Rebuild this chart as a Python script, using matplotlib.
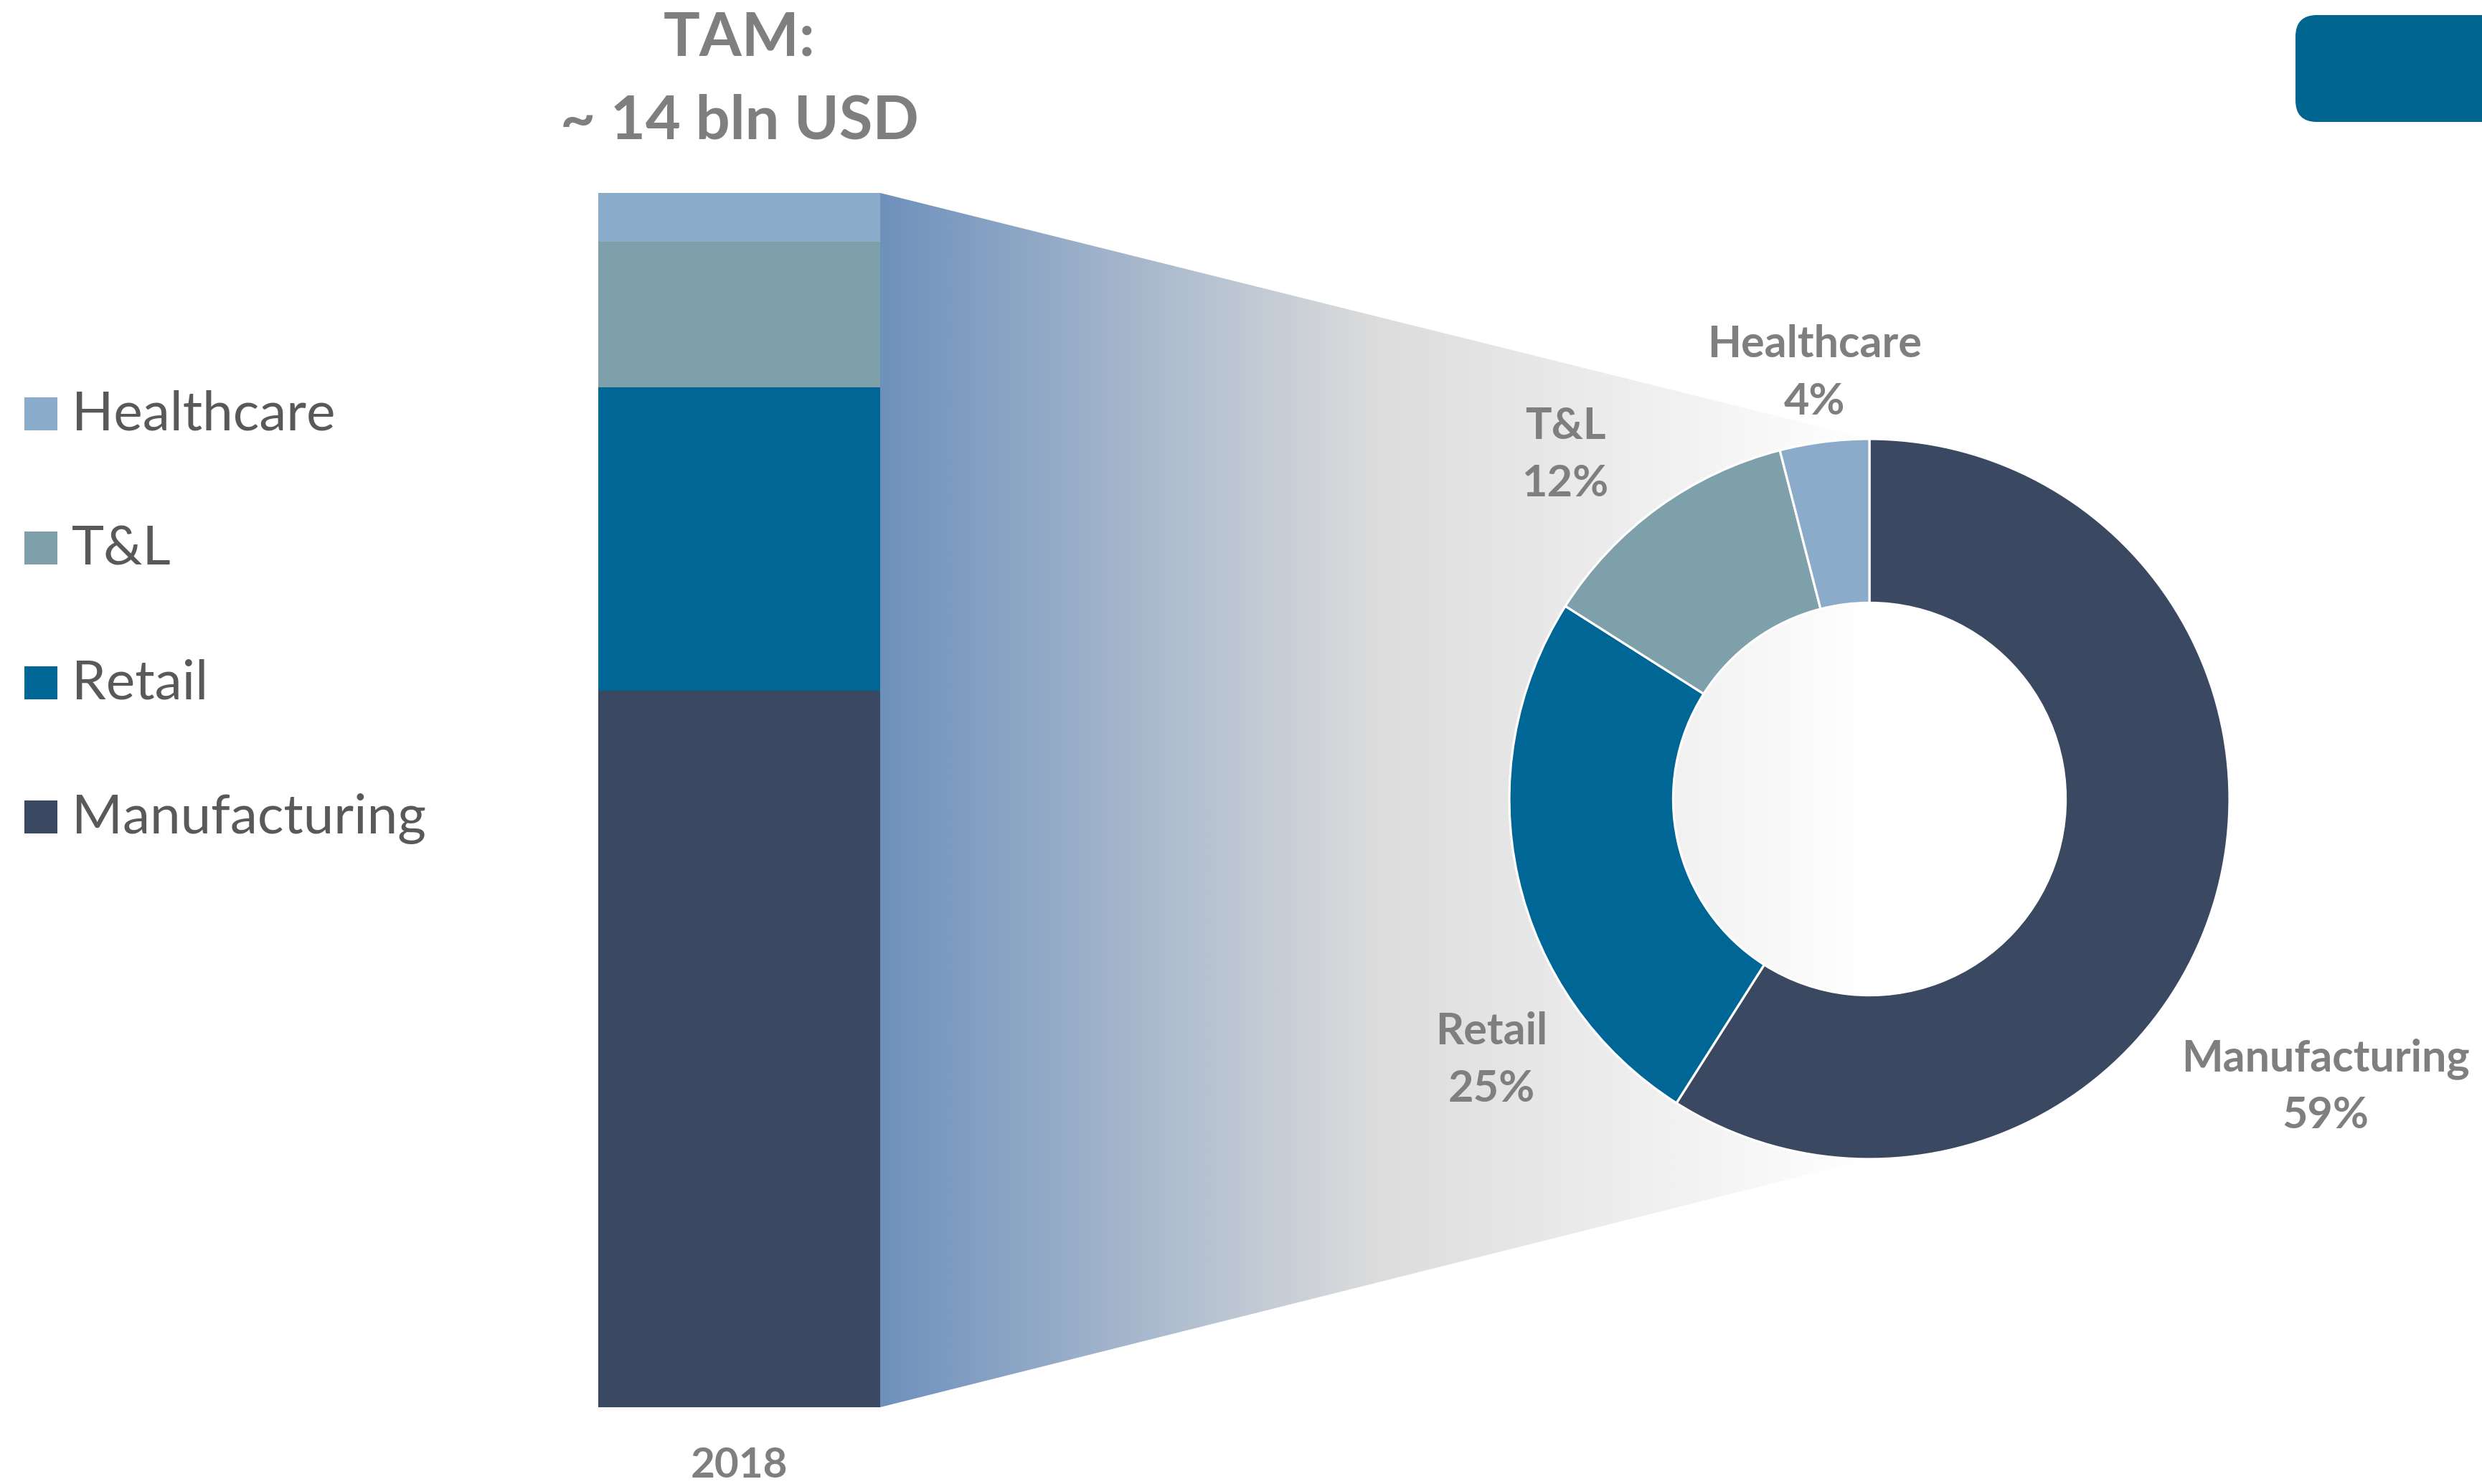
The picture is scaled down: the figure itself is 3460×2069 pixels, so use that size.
import numpy as np
import matplotlib
matplotlib.use('Agg')
import matplotlib.pyplot as plt
from matplotlib.patches import Polygon, FancyBboxPatch, Rectangle
from matplotlib.colors import LinearSegmentedColormap

# data
segments = ['Manufacturing', 'Retail', 'T&L', 'Healthcare']
shares = [59, 25, 12, 4]
seg_colors = ['#3B4862', '#006695', '#7DA0AA', '#8AABC9']
bar_year = '2018'
tam_lines = ['TAM:', '~ 14 bln USD']
legend_order = ['Healthcare', 'T&L', 'Retail', 'Manufacturing']

plt.rcParams['font.family'] = ['Lato', 'DejaVu Sans']

W, H = 3460, 2069
fig = plt.figure(figsize=(W / 100, H / 100), dpi=100)
fig.patch.set_facecolor('white')

label_grey = '#7F7F7F'
legend_grey = '#595959'


def px_axes(left, top, right, bottom):
    """Axes placed by pixel box (origin top-left)."""
    return fig.add_axes([left / W, 1 - bottom / H, (right - left) / W, (bottom - top) / H])


# background axes in pixel units, used for connector, texts and legend
bg = px_axes(0, 0, W, H)
bg.set_xlim(0, W)
bg.set_ylim(H, 0)
bg.axis('off')

bar_box = (834, 269, 1227, 1962)
pie_cx, pie_cy, pie_r = 2606, 1114, 502

# gradient connector between bar and donut
x0, x1 = bar_box[2], pie_cx
conn = Polygon([(x0, bar_box[1]), (x1, pie_cy - pie_r), (x1, pie_cy + pie_r), (x0, bar_box[3])],
               closed=True, facecolor='none', edgecolor='none')
bg.add_patch(conn)
grad_cmap = LinearSegmentedColormap.from_list(
    'conn', [(0.0, '#6E91BC'), (0.5, '#DCDCDC'), (1.0, '#FFFFFF')])
img = bg.imshow(np.linspace(0, 1, 600)[None, :], cmap=grad_cmap, aspect='auto',
                extent=(x0, x1, bar_box[3], bar_box[1]), zorder=1)
img.set_clip_path(conn)
bg.set_xlim(0, W)
bg.set_ylim(H, 0)

# stacked bar
ax_bar = px_axes(*bar_box)
bottom = 0
for name, val, col in zip(segments, shares, seg_colors):
    ax_bar.bar(0, val, bottom=bottom, width=1, color=col, linewidth=0)
    bottom += val
ax_bar.set_xlim(-0.5, 0.5)
ax_bar.set_ylim(0, sum(shares))
ax_bar.axis('off')

# donut
ax_pie = px_axes(pie_cx - pie_r, pie_cy - pie_r, pie_cx + pie_r, pie_cy + pie_r)
wedges, _ = ax_pie.pie(shares, colors=seg_colors, startangle=90, counterclock=False,
                       radius=1, wedgeprops=dict(width=0.455, edgecolor='white', linewidth=2.3))
for w in wedges:
    w.set_clip_on(False)
ax_pie.set_xlim(-1, 1)
ax_pie.set_ylim(-1, 1)
ax_pie.patch.set_alpha(0)

# donut labels (x centre, baseline of first line)
label_pos = {'Manufacturing': (3242, 1493), 'Retail': (2079, 1456),
             'T&L': (2182, 612), 'Healthcare': (2530, 498)}
for name, val in zip(segments, shares):
    lx, ly = label_pos[name]
    bg.text(lx, ly, name, ha='center', va='baseline', fontsize=44, fontweight='bold',
            color=label_grey, zorder=5)
    bg.text(lx, ly + 80, f'{val}%', ha='center', va='baseline', fontsize=44,
            fontweight='bold', color=label_grey, zorder=5)

# title above bar and year below
bar_mid = (bar_box[0] + bar_box[2]) / 2
bg.text(bar_mid, 78, tam_lines[0], ha='center', va='baseline', fontsize=61,
        fontweight='bold', color=label_grey)
bg.text(bar_mid, 193, tam_lines[1], ha='center', va='baseline', fontsize=61,
        fontweight='bold', color=label_grey)
bg.text(bar_mid, 2060, bar_year, ha='center', va='baseline', fontsize=42,
        fontweight='bold', color=label_grey)

# legend on the left
color_of = dict(zip(segments, seg_colors))
for i, name in enumerate(legend_order):
    base = 600 + i * 187.3
    bg.add_patch(Rectangle((34, base - 46), 46, 46, facecolor=color_of[name],
                           edgecolor='none'))
    bg.text(100, base, name, ha='left', va='baseline', fontsize=55, color=legend_grey)

# rounded box in the top right corner
bg.add_patch(FancyBboxPatch((3200, 21), 320, 149, boxstyle='round,pad=0,rounding_size=30',
                            facecolor='#00658F', edgecolor='none'))

fig.savefig('out.png', dpi=100, facecolor='white')
